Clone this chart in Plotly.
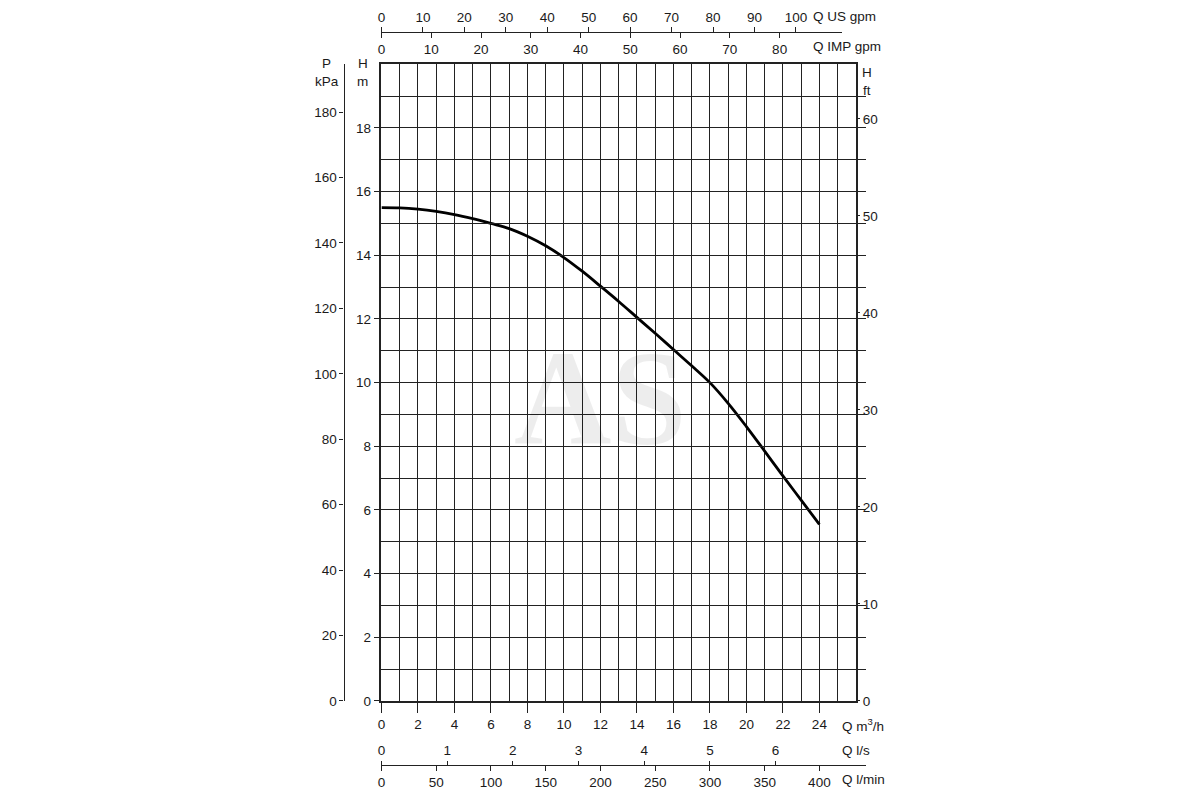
import plotly.graph_objects as go

# ---------------- data ----------------
flow_m3h = [0, 1, 2, 3, 4, 5, 6, 7, 8, 9, 10, 11, 12, 13, 14, 15, 16, 17, 18, 19, 20, 21, 22, 23, 24]
head_m = [15.5, 15.49, 15.45, 15.38, 15.28, 15.15, 15.0, 14.84, 14.6, 14.3, 13.93, 13.5, 13.03,
          12.55, 12.05, 11.55, 11.04, 10.53, 10.0, 9.35, 8.62, 7.85, 7.07, 6.31, 5.55]

m3h_ticks = list(range(0, 25, 2))
head_ticks = list(range(0, 19, 2))
kpa_ticks = list(range(0, 181, 20))
ft_ticks = list(range(0, 61, 10))
usgpm_ticks = list(range(0, 101, 10))
impgpm_ticks = list(range(0, 81, 10))
ls_ticks = list(range(0, 7))
lmin_ticks = list(range(0, 401, 50))

# unit conversions
US_GPM_PER_M3H = 4.40287
IMP_GPM_PER_M3H = 3.66615
LS_PER_M3H = 1 / 3.6
LMIN_PER_M3H = 1000 / 60
FT_PER_M = 3.28084

# ---------------- layout geometry (target pixels) ----------------
W, H = 1200, 800
px0, px1 = 380.7, 856.7      # plot x extent
py0, py1 = 63.0, 701.0       # plot y extent (top, bottom)
xmax = 26
ymax = 20
pxu = (px1 - px0) / xmax

def fx(p):
    return (p - 10.0) / W

def fy(p):
    return 1 - ((p - 6.6) / 0.992) / H

FONT = "Liberation Sans, Arial, Helvetica, sans-serif"
FS = 13.5
TXT = "#1a1a1a"
GRID = "#222222"
GW = 1.3
tickfont = dict(family=FONT, size=FS, color=TXT)

fig = go.Figure()
fig.add_trace(go.Scatter(
    x=flow_m3h, y=head_m, mode="lines",
    line=dict(color="black", width=2.8, shape="spline", smoothing=1.0),
    hoverinfo="skip", showlegend=False,
))
# empty carrier traces so the extra unit axes get drawn
for xa, ya in [("x", "y2"), ("x", "y3"), ("x2", "y"), ("x3", "y"), ("x4", "y"), ("x5", "y")]:
    fig.add_trace(go.Scatter(x=[None], y=[None], xaxis=xa, yaxis=ya, mode="lines",
                             hoverinfo="skip", showlegend=False))

top_end = 843.0
bot_end = 866.7
top_pos = fy(30.7)
bot_pos = fy(765.0)

common = dict(tickcolor=GRID, tickwidth=1.2, showline=True, linecolor=GRID, linewidth=1.3,
              showgrid=False, zeroline=False, tickfont=tickfont, fixedrange=True,
              tickmode="array", ticks="outside")

fig.update_layout(
    width=W, height=H,
    margin=dict(l=0, r=0, t=0, b=0),
    paper_bgcolor="white", plot_bgcolor="rgba(0,0,0,0)",
    showlegend=False,
    xaxis=dict(
        domain=[fx(px0), fx(px1)], range=[0, xmax], anchor="y",
        tickmode="array", tickvals=m3h_ticks, ticks="outside", ticklen=10,
        tickcolor=GRID, tickwidth=1.3,
        showgrid=True, gridcolor=GRID, gridwidth=GW,
        minor=dict(tickvals=list(range(0, xmax + 1)), showgrid=True, gridcolor=GRID, gridwidth=GW, ticks=""),
        showline=True, linecolor=GRID, linewidth=1.5, mirror=True,
        tickfont=tickfont, zeroline=False, fixedrange=True,
    ),
    yaxis=dict(
        domain=[fy(py1), fy(py0)], range=[0, ymax], anchor="x",
        tickmode="array", tickvals=head_ticks, ticks="outside", ticklen=6,
        tickcolor=GRID, tickwidth=1.3,
        showgrid=True, gridcolor=GRID, gridwidth=GW,
        minor=dict(tickvals=list(range(0, ymax + 1)), showgrid=True, gridcolor=GRID, gridwidth=GW, ticks=""),
        showline=True, linecolor=GRID, linewidth=1.5, mirror=True,
        tickfont=tickfont, zeroline=False, fixedrange=True,
    ),
    yaxis2=dict(
        overlaying="y", anchor="free", position=fx(342.7), side="left",
        range=[0, 194.6], tickvals=kpa_ticks, ticklen=4, **common,
    ),
    yaxis3=dict(
        overlaying="y", anchor="x", side="right",
        range=[0, ymax * FT_PER_M], tickvals=ft_ticks, ticklen=3, **common,
    ),
    xaxis2=dict(
        domain=[fx(px0), fx(top_end)], anchor="free", position=top_pos, side="top",
        range=[0, (top_end - px0) / pxu * US_GPM_PER_M3H],
        tickvals=usgpm_ticks, ticklen=5, **common,
    ),
    xaxis3=dict(
        domain=[fx(px0), fx(top_end)], anchor="free", position=top_pos, side="bottom",
        range=[0, (top_end - px0) / pxu * IMP_GPM_PER_M3H],
        tickvals=impgpm_ticks, ticklen=5, **common,
    ),
    xaxis4=dict(
        domain=[fx(px0), fx(bot_end)], anchor="free", position=bot_pos, side="top",
        range=[0, (bot_end - px0) / pxu * LS_PER_M3H],
        tickvals=ls_ticks, ticklen=4, **common,
    ),
    xaxis5=dict(
        domain=[fx(px0), fx(bot_end)], anchor="free", position=bot_pos, side="bottom",
        range=[0, (bot_end - px0) / pxu * LMIN_PER_M3H],
        tickvals=lmin_ticks, ticklen=5, **common,
    ),
)

labels = [
    ("P", 326, 62, "center"), ("kPa", 326, 80, "center"),
    ("H", 362, 62, "center"), ("m", 362, 80, "center"),
    ("H", 868, 71, "center"), ("ft", 868, 89, "center"),
    ("Q US gpm", 812, 15, "left"), ("Q IMP gpm", 812, 45, "left"),
    ("Q m<sup>3</sup>/h", 841, 725, "left"), ("Q l/s", 841, 751, "left"),
    ("Q l/min", 841, 780, "left"),
]
for text, x, y, xa in labels:
    fig.add_annotation(text=text, x=fx(x), y=fy(y), xref="paper", yref="paper",
                       xanchor=xa, yanchor="middle", showarrow=False,
                       font=dict(family=FONT, size=FS, color=TXT))

# watermark
fig.add_annotation(text="<b>AS</b>", x=fx(600), y=fy(398), xref="paper", yref="paper",
                   xanchor="center", yanchor="middle", showarrow=False,
                   font=dict(family="Liberation Serif, DejaVu Serif, serif", size=135,
                             color="rgba(0,0,0,0.07)"))

fig.write_html("out.html")
